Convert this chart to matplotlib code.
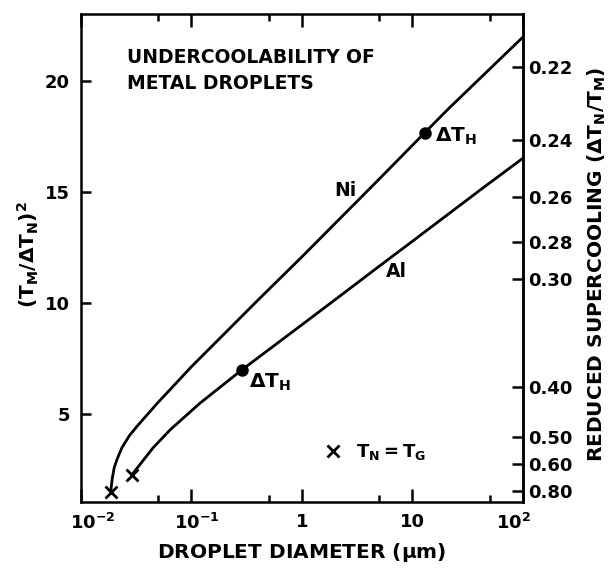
import numpy as np
import matplotlib
matplotlib.use("Agg")
import matplotlib.pyplot as plt
from matplotlib.ticker import FixedLocator, NullLocator
from matplotlib.transforms import ScaledTranslation

plt.rcParams["font.family"] = "DejaVu Sans"
plt.rcParams["font.size"] = 13
plt.rcParams["font.weight"] = "bold"
plt.rcParams["axes.labelweight"] = "bold"
plt.rcParams["mathtext.default"] = "bf"

# (Tm/dTn)^2 against droplet diameter in micrometres
ni_diameter = [0.0186, 0.0192, 0.0200, 0.0213, 0.0235, 0.0275, 0.032, 0.048,
               0.1, 0.4, 1, 5, 13, 21, 100]
ni_value = [1.52, 2.1, 2.6, 3.0, 3.5, 4.05, 4.45, 5.45,
            7.15, 10.15, 12.1, 15.6, 17.7, 18.75, 22.0]

al_diameter = [0.0288, 0.045, 0.064, 0.085, 0.119, 0.285, 1, 2.06, 5.08, 10,
               40.8, 100]
al_value = [2.27, 3.5, 4.3, 4.85, 5.5, 7.0, 9.04, 10.22, 11.7, 12.8,
            15.1, 16.54]

# homogeneous nucleation points (dT_H) on each curve
dth_diameter = [13, 0.285]
dth_value = [17.7, 7.0]

# Tn = Tg end points
tg_diameter = [ni_diameter[0], al_diameter[0]]
tg_value = [ni_value[0], al_value[0]]

x_ticks = [1e-2, 1e-1, 1, 10, 1e2]
x_ticklabels = [r"$10^{-2}$", r"$10^{-1}$", "1", "10", r"$10^{2}$"]
x_minor = [5e-2, 5e-1, 5, 50]
y_ticks = [5, 10, 15, 20]
reduced_ticks = [0.22, 0.24, 0.26, 0.28, 0.30, 0.40, 0.50, 0.60, 0.80]

fig = plt.figure(figsize=(6.13, 5.77), dpi=100)
ax = fig.add_axes([0.132, 0.1305, 0.721, 0.8457])

lw = 2.0
ax.plot(ni_diameter, ni_value, color="black", lw=lw, solid_capstyle="round",
        solid_joinstyle="round")
ax.plot(al_diameter, al_value, color="black", lw=lw, solid_capstyle="round",
        solid_joinstyle="round")
ax.plot(dth_diameter, dth_value, "o", color="black", ms=8, ls="none")
tg = ax.plot(tg_diameter, tg_value, "x", color="black", ms=8, mew=2.0,
             ls="none", label=r"$T_N = T_G$")[0]

ax.set_xscale("log")
ax.set_xlim(1e-2, 1e2)
ax.set_ylim(1.07, 23.05)

ax.xaxis.set_major_locator(FixedLocator(x_ticks))
ax.set_xticklabels(x_ticklabels)
ax.xaxis.set_minor_locator(FixedLocator(x_minor))
ax.xaxis.set_minor_formatter(plt.NullFormatter())
ax.set_yticks(y_ticks)
ax.yaxis.set_minor_locator(NullLocator())

ax.tick_params(axis="x", which="major", direction="in", length=9.5, width=1.8,
               top=True, pad=8)
ax.tick_params(axis="x", which="minor", direction="in", length=5, width=1.8,
               top=True)
ax.tick_params(axis="y", which="major", direction="in", length=7, width=1.8,
               right=False, pad=8)
for sp in ax.spines.values():
    sp.set_linewidth(1.8)

# keep the "10" of each power label over its tick, end labels inside the frame
shifts = [12, 5, 0, 0, -9]
for lab, dx in zip(ax.get_xticklabels(), shifts):
    lab.set_transform(lab.get_transform() + ScaledTranslation(dx / 100, 0, fig.dpi_scale_trans))

# right-hand scale: reduced supercooling dTn/Tm = 1/sqrt(y)
def to_reduced(y):
    return 1.0 / np.sqrt(np.clip(y, 1e-6, None))

def from_reduced(r):
    return 1.0 / np.clip(r, 1e-6, None) ** 2

sec = ax.secondary_yaxis("right", functions=(to_reduced, from_reduced))
sec.set_yticks(reduced_ticks)
sec.set_yticklabels([f"{r:.2f}" for r in reduced_ticks])
sec.yaxis.set_minor_locator(NullLocator())
sec.tick_params(direction="in", length=8, width=1.8, pad=4)
sec.spines["right"].set_linewidth(1.8)
sec.set_ylabel(r"REDUCED SUPERCOOLING $(\Delta T_N / T_M)$", fontsize=14.5)
sec.yaxis.set_label_coords(1.142, 0.486, transform=ax.transAxes)

ax.set_xlabel(r"DROPLET DIAMETER $(\mu m)$", fontsize=14.5, labelpad=6)
ax.set_ylabel(r"$(T_M / \Delta T_N)^2$", fontsize=14.5)
ax.yaxis.set_label_coords(-0.09, 0.506)

ax.text(0.104, 0.93, "UNDERCOOLABILITY OF\nMETAL DROPLETS", transform=ax.transAxes,
        ha="left", va="top", fontsize=13.5, linespacing=1.5)
ax.text(2.45, 15.1, "Ni", ha="center", va="center", fontsize=13.5)
ax.text(7.24, 11.46, "Al", ha="center", va="center", fontsize=13.5)

ax.annotate(r"$\Delta T_H$", (dth_diameter[0], dth_value[0]), xytext=(7, -3),
            textcoords="offset points", ha="left", va="center", fontsize=14.5)
ax.annotate(r"$\Delta T_H$", (dth_diameter[1], dth_value[1]), xytext=(5, -9),
            textcoords="offset points", ha="left", va="center", fontsize=14.5)

ax.legend(handles=[tg], loc="center left", bbox_to_anchor=(0.549, 0.102),
          frameon=False, handlelength=1.0, handletextpad=0.8,
          borderpad=0, borderaxespad=0, fontsize=13)

fig.savefig("out.png", dpi=100)
